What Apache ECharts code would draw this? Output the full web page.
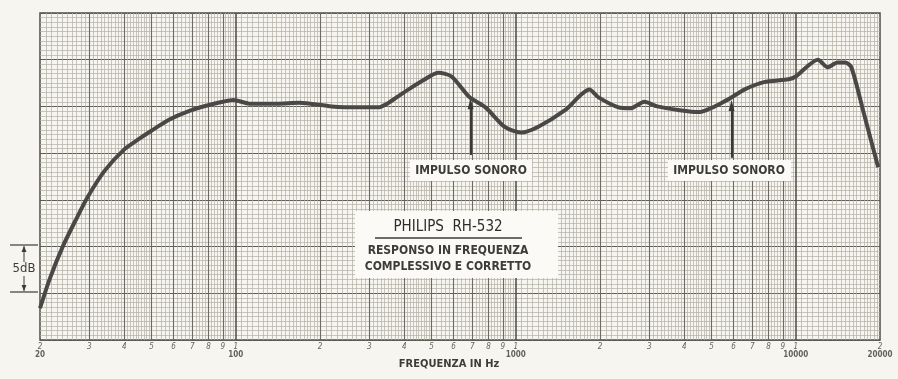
<!DOCTYPE html>
<html>
<head>
<meta charset="utf-8">
<script src="https://cdn.jsdelivr.net/npm/echarts@6/dist/echarts.min.js"></script>
<style>
  html, body { margin: 0; padding: 0; background: #f6f5ef; }
  #chart { width: 898px; height: 379px; }
</style>
</head>
<body>
<div id="chart"></div>
<script>
// risposta in frequenza (Hz, dB relativi)
var freqs = [20, 21.7, 24.2, 27, 29.6, 34, 40, 45, 50, 58, 68, 79, 90, 98, 112, 140, 169, 220, 280, 323,
    352, 381, 413, 467, 530, 590, 683, 780, 914, 1045, 1200, 1500, 1835, 1969, 2330, 2570, 2880,
    3200, 3850, 4500, 5700, 6550, 7700, 9430, 10000, 12000, 13000, 14100, 15000, 15800, 17500, 19700];
var levels = [3.4, 6.6, 10.1, 13.0, 15.3, 18.1, 20.4, 21.5, 22.4, 23.6, 24.5, 25.1, 25.5, 25.7, 25.3, 25.3, 25.4, 25.0, 24.9, 24.9,
    25.4, 26.1, 26.8, 27.8, 28.6, 28.2, 26.0, 24.9, 22.8, 22.2, 22.8, 24.6, 26.8, 26.0, 24.9, 24.8, 25.5,
    25.0, 24.6, 24.4, 25.7, 26.8, 27.6, 27.9, 28.2, 30.0, 29.2, 29.7, 29.7, 29.2, 24.3, 18.5];

// etichette asse x
var digitTicks = [20, 30, 40, 50, 60, 70, 80, 90, 100, 200, 300, 400, 500, 600, 700, 800, 900, 1000,
    2000, 3000, 4000, 5000, 6000, 7000, 8000, 9000, 10000, 20000];
var digitLabels = ['2', '3', '4', '5', '6', '7', '8', '9', '1', '2', '3', '4', '5', '6', '7', '8', '9', '1',
    '2', '3', '4', '5', '6', '7', '8', '9', '1', '2'];
var decadeTicks = [20, 100, 1000, 10000, 20000];
var decadeLabels = ['20', '100', '1000', '10000', '20000'];

var chart = echarts.init(document.getElementById('chart'));
var font = '"DejaVu Sans Condensed", "Liberation Sans Narrow", sans-serif';
var textColor = '#3e3c39';

// linee della carta logaritmica
var gridLines = [];
[10, 100, 1000, 10000].forEach(function (dec) {
    for (var m = 1; m < 10; m += 0.05) {
        var mm = Math.round(m * 100) / 100;
        var step = mm < 2 ? 0.05 : (mm < 5 ? 0.1 : 0.2);
        if (Math.abs(mm / step - Math.round(mm / step)) > 1e-6) continue;
        var f = mm * dec;
        if (f <= 20 || f >= 20000) continue;
        var isInt = Math.abs(mm - Math.round(mm)) < 1e-6;
        var style;
        if (mm === 1) style = { color: '#55524c', width: 1.6, type: 'solid', opacity: 1 };
        else if (isInt) style = { color: '#6e6a63', width: 1.1, type: 'solid', opacity: 1 };
        else style = { color: '#b3afa6', width: 0.7, type: 'solid', opacity: 1 };
        gridLines.push({ xAxis: f, lineStyle: style });
    }
});

// freccia dal riquadro fino alla curva
function arrow(f, y0, y1) {
    return [
        { coord: [f, y0], symbol: 'none' },
        { coord: [f, y1], symbol: 'triangle', symbolSize: [6, 11] }
    ];
}

chart.setOption({
    backgroundColor: '#f6f5ef',
    animation: false,
    grid: { left: 40, right: 18, top: 13, bottom: 39, show: true,
            borderColor: '#4f4c47', borderWidth: 1.5, backgroundColor: 'transparent' },
    xAxis: {
        type: 'log',
        logBase: 10,
        min: 20,
        max: 20000,
        axisLine: { show: false },
        axisTick: { show: false },
        axisLabel: { show: false },
        splitLine: { show: false }
    },
    yAxis: {
        type: 'value',
        min: 0,
        max: 35,
        interval: 5,
        axisLine: { show: false },
        axisTick: { show: false },
        axisLabel: { show: false },
        splitLine: { show: true, lineStyle: { color: '#5f5c56', width: 1.2 } },
        minorTick: { show: false, splitNumber: 10 },
        minorSplitLine: { show: true, lineStyle: { color: '#b3afa6', width: 0.7 } }
    },
    series: [
        {
            type: 'line',
            data: [],
            silent: true,
            markLine: {
                silent: true,
                symbol: 'none',
                label: { show: false },
                animation: false,
                data: gridLines
            }
        },
        {
            type: 'line',
            data: freqs.map(function (f, i) { return [f, levels[i]]; }),
            smooth: 0.25,
            showSymbol: false,
            lineStyle: { color: '#4a4846', width: 4 },
            z: 5,
            markLine: {
                silent: true,
                label: { show: false },
                lineStyle: { color: '#3b3936', width: 2.2, type: 'solid' },
                data: [arrow(690, 19.8, 25.3), arrow(5900, 19.5, 25.1)]
            }
        },
        {
            type: 'scatter',
            data: digitTicks.map(function (f, i) { return { value: [f, 0], name: digitLabels[i] }; }),
            symbolSize: 0,
            label: {
                show: true, position: 'bottom', distance: 3,
                formatter: '{b}', fontFamily: font, fontStyle: 'italic',
                fontSize: 8, color: textColor
            }
        },
        {
            type: 'scatter',
            data: decadeTicks.map(function (f, i) { return { value: [f, 0], name: decadeLabels[i] }; }),
            symbolSize: 0,
            label: {
                show: true, position: 'bottom', distance: 11,
                formatter: '{b}', fontFamily: font, fontWeight: 'bold',
                fontSize: 8, color: textColor
            }
        }
    ],
    graphic: [
        // titolo asse x
        { type: 'text', left: 'center', top: 359,
          style: { text: 'FREQUENZA IN Hz', font: 'bold 11px ' + font, fill: textColor } },
        // riquadri "IMPULSO SONORO"
        { type: 'rect', shape: { x: 410, y: 160, width: 122, height: 21 }, style: { fill: '#fbfaf6' }, z: 10 },
        { type: 'text', x: 471, y: 171, z: 11,
          style: { text: 'IMPULSO SONORO', font: 'bold 12px ' + font, fill: textColor,
                   align: 'center', verticalAlign: 'middle' } },
        { type: 'rect', shape: { x: 668, y: 160, width: 123, height: 21 }, style: { fill: '#fbfaf6' }, z: 10 },
        { type: 'text', x: 729, y: 171, z: 11,
          style: { text: 'IMPULSO SONORO', font: 'bold 12px ' + font, fill: textColor,
                   align: 'center', verticalAlign: 'middle' } },
        // riquadro del titolo
        { type: 'rect', shape: { x: 355, y: 211, width: 203, height: 67 }, style: { fill: '#fbfaf6' }, z: 10 },
        { type: 'text', x: 448, y: 227, z: 11,
          style: { text: 'PHILIPS  RH-532', font: '500 15px ' + font, fill: '#2f2d2a',
                   align: 'center', verticalAlign: 'middle' } },
        { type: 'line', shape: { x1: 375, y1: 238, x2: 522, y2: 238 }, z: 11,
          style: { stroke: textColor, lineWidth: 1.3 } },
        { type: 'text', x: 448, y: 251, z: 11,
          style: { text: 'RESPONSO IN FREQUENZA', font: 'bold 12px ' + font, fill: textColor,
                   align: 'center', verticalAlign: 'middle' } },
        { type: 'text', x: 448, y: 267, z: 11,
          style: { text: 'COMPLESSIVO E CORRETTO', font: 'bold 12px ' + font, fill: textColor,
                   align: 'center', verticalAlign: 'middle' } },
        // scala 5 dB
        { type: 'line', shape: { x1: 10, y1: 245, x2: 38, y2: 245 }, style: { stroke: textColor, lineWidth: 1.2 } },
        { type: 'line', shape: { x1: 10, y1: 292, x2: 38, y2: 292 }, style: { stroke: textColor, lineWidth: 1.2 } },
        { type: 'line', shape: { x1: 24, y1: 246, x2: 24, y2: 262 }, style: { stroke: textColor, lineWidth: 1 } },
        { type: 'line', shape: { x1: 24, y1: 276, x2: 24, y2: 291 }, style: { stroke: textColor, lineWidth: 1 } },
        { type: 'polygon', shape: { points: [[24, 246], [21.5, 252], [26.5, 252]] }, style: { fill: textColor } },
        { type: 'polygon', shape: { points: [[24, 291], [21.5, 285], [26.5, 285]] }, style: { fill: textColor } },
        { type: 'text', x: 24, y: 269,
          style: { text: '5dB', font: '13px ' + font, fill: textColor, align: 'center', verticalAlign: 'middle' } }
    ]
});
</script>
</body>
</html>
